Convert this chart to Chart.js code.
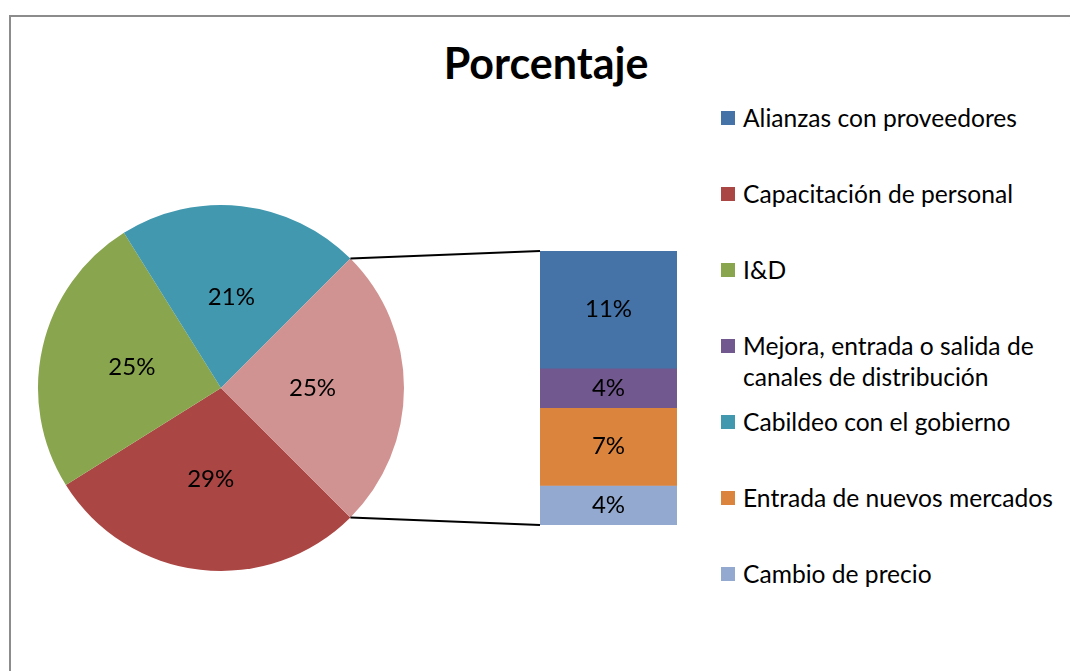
<!DOCTYPE html>
<html>
<head>
  <meta charset="utf-8" />
  <style>
    body {
      margin: 0;
      width: 1070px;
      height: 671px;
      overflow: hidden;
      background: #fff;
      font-family: Lato, "Open Sans", sans-serif;
      color: #000;
    }

    .frame {
      position: absolute;
      left: 9px;
      top: 15px;
      width: 1100px;
      height: 700px;
      border-left: 2px solid #8c8c8c;
      border-top: 2px solid #8c8c8c;
    }

    .title {
      position: absolute;
      left: 0;
      width: 1092px;
      top: 38px;
      text-align: center;
      font-weight: bold;
      font-size: 43px;
      line-height: 50px;
    }

    #pieBox { position: absolute; left: 31px; top: 198px; width: 380px; height: 380px; }
    #barBox { position: absolute; left: 340px; top: 230px; width: 360px; height: 320px; }

    .legend {
      position: absolute;
      left: 721px;
      top: 102px;
      width: 345px;
      font-size: 24.6px;
      line-height: 31px;
    }

    /* every entry gets the same slot, a wrapped one just runs into it */
    .legend .item {
      position: relative;
      padding-left: 22px;
      height: 76px;
    }

    .legend .box {
      position: absolute;
      left: 0;
      top: 9px;
      width: 14px;
      height: 14px;
    }
  </style>
</head>

<body>
  <div class="frame"></div>
  <div class="title">Porcentaje</div>

  <div id="pieBox"><canvas id="pieChart"></canvas></div>
  <div id="barBox"><canvas id="barChart"></canvas></div>
  <div class="legend" id="legend"></div>

  <script src="https://cdn.jsdelivr.net/npm/chart.js"></script>

  <script>
    // data, legend order
    const categories = [
      "Alianzas con proveedores",
      "Capacitación de personal",
      "I&D",
      "Mejora, entrada o salida de canales de distribución",
      "Cabildeo con el gobierno",
      "Entrada de nuevos mercados",
      "Cambio de precio"
    ];
    const values = [10.7, 28.6, 25.0, 3.6, 21.4, 7.1, 3.6];
    const colors = ["#4572A7", "#AA4643", "#89A54E", "#71588F", "#4198AF", "#DB843D", "#93A9CF"];

    // pie order (clockwise) and bar order (top to bottom)
    const pieOrder = [1, 2, 4];
    const barOrder = [0, 3, 5, 6];
    const otherColor = "#D19392";

    const FONT = "Lato, 'Open Sans', sans-serif";
    Chart.defaults.font.family = FONT;

    // legend
    const legend = document.getElementById("legend");
    categories.forEach((name, i) => {
      const div = document.createElement("div");
      div.className = "item";
      const box = document.createElement("span");
      box.className = "box";
      box.style.background = colors[i];
      div.appendChild(box);
      div.appendChild(document.createTextNode(name));
      legend.appendChild(div);
    });

    const otherTotal = barOrder.reduce((s, i) => s + values[i], 0);
    const pieValues = pieOrder.map(i => values[i]).concat([otherTotal]);
    const pieColors = pieOrder.map(i => colors[i]).concat([otherColor]);
    const pieNames = pieOrder.map(i => categories[i]).concat(["Otro"]);

    function pct(v) {
      return Math.round(v) + "%";
    }

    const pieLabels = {
      id: "pieLabels",
      afterDatasetsDraw(chart) {
        const ctx = chart.ctx;
        const meta = chart.getDatasetMeta(0);
        ctx.save();
        ctx.font = "24px " + FONT;
        ctx.fillStyle = "#000";
        ctx.textAlign = "center";
        ctx.textBaseline = "middle";
        meta.data.forEach((arc, i) => {
          const p = arc.getCenterPoint();
          ctx.fillText(pct(pieValues[i]), p.x, p.y);
        });
        ctx.restore();
      }
    };

    const pieChart = new Chart(document.getElementById("pieChart"), {
      type: "pie",
      data: {
        labels: pieNames,
        datasets: [{
          data: pieValues,
          backgroundColor: pieColors,
          borderWidth: 0,
          hoverOffset: 0
        }]
      },
      options: {
        responsive: true,
        maintainAspectRatio: false,
        animation: false,
        rotation: 135,
        layout: { padding: 7 },
        plugins: {
          legend: { display: false },
          tooltip: { enabled: false }
        }
      },
      plugins: [pieLabels]
    });

    const barLabels = {
      id: "barLabels",
      afterDatasetsDraw(chart) {
        const ctx = chart.ctx;
        ctx.save();
        ctx.font = "24px " + FONT;
        ctx.fillStyle = "#000";
        ctx.textAlign = "center";
        ctx.textBaseline = "middle";
        chart.data.datasets.forEach((ds, i) => {
          const bar = chart.getDatasetMeta(i).data[0];
          ctx.fillText(pct(ds.data[0]), bar.x, (bar.y + bar.base) / 2);
        });
        ctx.restore();
      }
    };

    // the two lines from the "other" slice to the bar
    const connectors = {
      id: "connectors",
      afterDraw(chart) {
        const arc = pieChart.getDatasetMeta(0).data[pieValues.length - 1];
        const pieBox = document.getElementById("pieBox");
        const barBox = document.getElementById("barBox");
        const dx = pieBox.offsetLeft - barBox.offsetLeft;
        const dy = pieBox.offsetTop - barBox.offsetTop;

        let top = Infinity, bottom = -Infinity, left = 0;
        chart.data.datasets.forEach((ds, i) => {
          const bar = chart.getDatasetMeta(i).data[0];
          top = Math.min(top, bar.y, bar.base);
          bottom = Math.max(bottom, bar.y, bar.base);
          left = bar.x - bar.width / 2;
        });

        const r = arc.outerRadius;
        const p1 = [arc.x + r * Math.cos(arc.startAngle) + dx, arc.y + r * Math.sin(arc.startAngle) + dy];
        const p2 = [arc.x + r * Math.cos(arc.endAngle) + dx, arc.y + r * Math.sin(arc.endAngle) + dy];

        const ctx = chart.ctx;
        ctx.save();
        ctx.strokeStyle = "#000";
        ctx.lineWidth = 2;
        ctx.beginPath();
        ctx.moveTo(p1[0], p1[1]);
        ctx.lineTo(left, top);
        ctx.moveTo(p2[0], p2[1]);
        ctx.lineTo(left, bottom);
        ctx.stroke();
        ctx.restore();
      }
    };

    new Chart(document.getElementById("barChart"), {
      type: "bar",
      data: {
        labels: ["Otro"],
        datasets: barOrder.map(i => ({
          label: categories[i],
          data: [values[i]],
          backgroundColor: colors[i],
          borderWidth: 0,
          categoryPercentage: 1,
          barPercentage: 1
        }))
      },
      options: {
        responsive: true,
        maintainAspectRatio: false,
        animation: false,
        layout: { padding: { left: 200, right: 23, top: 21, bottom: 25 } },
        scales: {
          x: { stacked: true, display: false },
          y: { stacked: true, display: false, reverse: true, min: 0, max: otherTotal }
        },
        plugins: {
          legend: { display: false },
          tooltip: { enabled: false }
        }
      },
      plugins: [barLabels, connectors]
    });
  </script>
</body>

</html>
